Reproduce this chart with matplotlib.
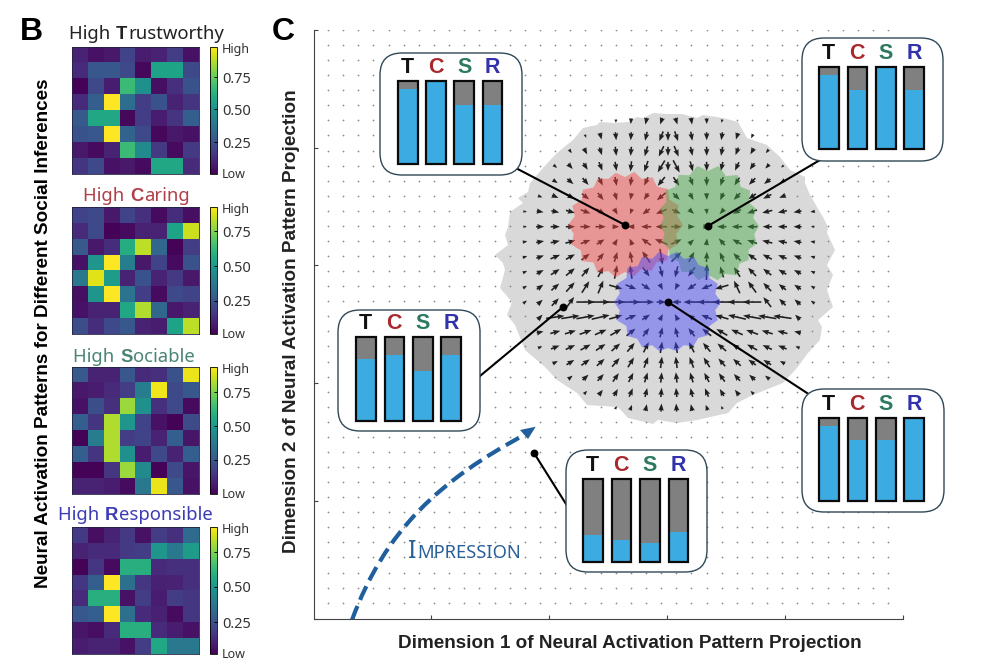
import numpy as np
import matplotlib
matplotlib.use("Agg")
import matplotlib.pyplot as plt
from matplotlib.patches import FancyBboxPatch, PathPatch
from matplotlib.path import Path

W, H = 1000, 669

# panel B, cell values
trust = [[.10, .05, .07, .20, .08, .10, .18, .05],
         [.12, .27, .27, .22, .02, .58, .58, .22],
         [.01, .22, .08, .68, .50, .04, .14, .25],
         [.12, .30, 1.0, .36, .18, .25, .10, .15],
         [.28, .60, .60, .02, .18, .08, .15, .30],
         [.25, .27, 1.0, .32, .22, .02, .07, .05],
         [.07, .03, .10, .68, .48, .17, .03, .17],
         [.15, .22, .05, .07, .03, .60, .60, .12]]
caring = [[.20, .22, .07, .20, .14, .03, .13, .04],
          [.12, .22, .01, .03, .10, .10, .58, .92],
          [.28, .07, .13, .62, .90, .33, .01, .18],
          [.05, .52, 1.0, .42, .07, .20, .03, .25],
          [.40, .95, .55, .10, .25, .10, .17, .07],
          [.04, .52, 1.0, .38, .18, .03, .22, .20],
          [.05, .10, .10, .60, .88, .33, .07, .10],
          [.24, .13, .22, .27, .10, .08, .58, .90]]
sociable = [[.28, .10, .10, .27, .12, .14, .25, .97],
            [.07, .08, .12, .18, .42, .98, .22, .27],
            [.05, .24, .14, .85, .50, .14, .22, .03],
            [.30, .15, .88, .52, .20, .05, .01, .23],
            [.01, .42, .88, .18, .20, .10, .30, .06],
            [.30, .15, .88, .50, .08, .22, .10, .30],
            [.01, .01, .16, .85, .48, .01, .22, .06],
            [.10, .10, .08, .03, .40, .97, .27, .05]]
responsible = [[.17, .04, .10, .17, .05, .18, .14, .35],
               [.10, .12, .12, .17, .18, .52, .40, .55],
               [.01, .16, .03, .63, .63, .12, .14, .14],
               [.16, .30, 1.0, .37, .16, .09, .10, .14],
               [.12, .63, .63, .05, .18, .08, .18, .16],
               [.27, .30, 1.0, .37, .12, .09, .03, .16],
               [.06, .04, .12, .63, .63, .12, .08, .05],
               [.08, .10, .10, .05, .18, .60, .40, .40]]
heat_tops = [47, 207, 367, 527]
cbar_tick_pos = [[.25, .51, .76], [.26, .535, .81], [.27, .535, .80], [.25, .53, .80]]
cbar_tick_labels = ["0.25", "0.50", "0.75"]

# panel C, bar values in the callouts
bar_letters = ["T", "C", "S", "R"]
bars_top_left = [.90, 1.0, .71, .71]
bars_top_right = [.90, .72, 1.0, .72]
bars_left = [.74, .79, .60, .78]
bars_right = [.90, .73, .73, 1.0]
bars_bottom = [.32, .26, .23, .36]

# arrows of the landscape: first grid column of each row, direction in degrees, length in px
arrow_rows = list(range(-7, 13))
arrow_first_col = [6, 4, 3, 2, 2, 1, 0, 0, 0, 0, 0, 0, 0, 1, 1, 1, 2, 3, 4, 6]
arrow_angles = [
    [-85, -93, -101, -109, -73, -81, -89, -97],
    [-67, -75, -84, -94, -103, -112, -71, -80, -89, -99, -108, -116],
    [-54, -62, -72, -83, -95, -106, -116, -67, -78, -89, -100, -111, -120, -128],
    [-41, -48, -57, -68, -81, -96, -109, -121, -62, -75, -89, -103, -115, -126, -134, -141],
    [-33, -40, -49, -62, -79, -98, -115, -129, -55, -70, -88, -107, -122, -134, -142, -149],
    [-20, -23, -29, -38, -51, -73, -101, -125, -140, -44, -61, -87, -114, -134, -145, -153, -158],
    [-9, -10, -12, -16, -21, -32, -59, -112, -144, -157, -25, -42, -84, -132, -152, -161, -166, -168, -170, -172],
    [0, 0, 0, 0, 0, 0, 0, 180, 180, 180, 0, 0, 0, 180, 180, 180, 180, 180, 180, 180],
    [9, 10, 12, 16, 21, 32, 59, 112, 144, 157, 25, 42, 84, 132, 152, 161, 166, 168, 170, 172],
    [17, 20, 23, 29, 38, 51, 73, 101, 125, -81, 44, 61, 87, 114, 134, 145, 153, 158, 161, 164],
    [24, 28, 33, 40, 49, 62, 79, 98, -53, -76, -104, -127, 88, 107, 122, 134, 142, 149, 153, 157],
    [31, 36, 41, 48, 57, 68, -16, -22, -34, -63, -117, -146, -158, -164, 115, 126, 134, 141, 146, 150],
    [37, 42, 47, 54, 0, 0, 0, 0, 0, 0, 180, 180, 180, 180, 180, 180, 128, 134, 139, 144],
    [47, 8, 9, 10, 13, 16, 22, 34, 63, 117, 146, 158, 164, 167, 170, 171, 172, 135],
    [13, 15, 17, 20, 24, 30, 39, 53, 76, 104, 127, 141, 150, 156, 160, 163, 165, 167],
    [19, 22, 25, 29, 34, 41, 50, 63, 81, 99, 117, 130, 139, 146, 151, 155, 158, 161],
    [28, 32, 36, 42, 49, 58, 69, 83, 97, 111, 122, 131, 138, 144, 148, 152],
    [38, 42, 48, 55, 63, 73, 84, 96, 107, 117, 125, 132, 138, 142],
    [47, 53, 60, 67, 76, 85, 95, 104, 113, 120, 127, 133],
    [63, 70, 78, 86, 94, 102, 110, 117],
]
arrow_lengths = [
    [3, 5, 6, 6, 6, 6, 5, 3],
    [3, 6, 7, 7, 8, 9, 9, 8, 7, 7, 6, 4],
    [4, 6, 7, 8, 8, 9, 10, 10, 8, 8, 8, 7, 6, 4],
    [4, 6, 7, 8, 8, 9, 10, 12, 12, 9, 8, 8, 8, 7, 5, 3],
    [5, 7, 8, 8, 8, 8, 8, 10, 9, 8, 8, 8, 8, 8, 7, 5],
    [4, 6, 8, 8, 8, 7, 6, 7, 10, 8, 7, 6, 7, 8, 8, 8, 6],
    [3, 6, 7, 8, 9, 9, 6, 5, 8, 10, 8, 6, 5, 6, 8, 9, 9, 8, 7, 4],
    [3, 7, 8, 8, 9, 9, 6, 6, 9, 10, 9, 6, 6, 8, 9, 9, 8, 8, 7, 3],
    [4, 7, 8, 9, 9, 8, 6, 6, 10, 12, 10, 6, 6, 8, 9, 9, 9, 8, 7, 4],
    [4, 7, 9, 9, 9, 9, 9, 10, 12, 14, 12, 10, 9, 9, 9, 9, 9, 8, 7, 4],
    [4, 7, 9, 10, 10, 10, 12, 12, 10, 10, 10, 10, 14, 10, 10, 10, 9, 8, 7, 4],
    [4, 7, 9, 11, 12, 12, 12, 10, 9, 6, 6, 9, 10, 12, 12, 12, 10, 8, 7, 4],
    [4, 6, 9, 11, 16, 16, 16, 16, 14, 8, 8, 14, 16, 16, 16, 16, 11, 8, 7, 4],
    [6, 16, 16, 16, 16, 12, 10, 8, 6, 6, 8, 10, 12, 16, 16, 16, 16, 6],
    [6, 9, 10, 11, 11, 11, 10, 9, 9, 9, 9, 10, 11, 11, 11, 10, 9, 6],
    [4, 8, 9, 10, 10, 10, 10, 10, 10, 10, 10, 10, 10, 10, 10, 9, 8, 4],
    [5, 8, 9, 9, 10, 10, 10, 10, 10, 10, 10, 9, 9, 8, 8, 5],
    [5, 7, 8, 9, 9, 9, 9, 9, 9, 9, 9, 8, 7, 5],
    [4, 6, 7, 8, 8, 8, 8, 8, 8, 7, 6, 4],
    [3, 5, 6, 7, 7, 6, 5, 3],
]

# outlines of the regions, traced in image pixels
gray_x = [653, 643, 637, 628, 615, 600, 597, 583, 573, 563, 555, 543, 530, 528, 518, 523, 510, 508, 505, 508,
          495, 503, 505, 500, 512, 507, 515, 525, 545, 557, 577, 587, 618, 628, 653, 658, 677, 697, 728, 737,
          753, 783, 797, 808, 820, 822, 818, 833, 827, 833, 827, 835, 827, 828, 823, 810, 805, 805, 790, 780,
          767, 747, 738, 723, 703, 697, 682, 667]
gray_y = [113, 118, 117, 122, 123, 122, 125, 128, 140, 148, 155, 168, 183, 192, 198, 203, 212, 227, 235, 245,
          255, 263, 270, 288, 302, 315, 325, 350, 367, 380, 393, 405, 407, 418, 424, 420, 423, 420, 413, 403,
          395, 383, 368, 353, 340, 327, 320, 307, 290, 275, 265, 250, 233, 227, 217, 195, 183, 177, 170, 157,
          145, 138, 122, 118, 115, 118, 114, 114]
# radii every 10 degrees from the centre of each coloured region
red_radii = [58, 53, 57, 51, 56, 50, 55, 49, 54, 48, 53, 49, 54, 49, 55, 50, 56, 51,
             57, 52, 57, 51, 56, 49, 55, 49, 53, 47, 52, 47, 53, 49, 55, 50, 56, 52]
green_radii = [51, 46, 51, 47, 55, 51, 59, 53, 61, 55, 61, 54, 59, 51, 55, 48, 51, 45,
               48, 44, 49, 45, 50, 46, 53, 49, 55, 49, 55, 51, 57, 49, 53, 47, 52, 47]
blue_radii = [53, 48, 53, 48, 53, 48, 52, 46, 51, 46, 51, 46, 52, 47, 53, 48, 54, 49,
              54, 49, 54, 48, 53, 48, 52, 46, 50, 46, 50, 46, 51, 47, 52, 48, 53, 48]

impression_ctrl_x = [352, 385, 440, 526]
impression_ctrl_y = [620, 530, 480, 434]

plt.rcParams['font.family'] = ['Noto Sans', 'DejaVu Sans']
BOLD = ['Liberation Sans', 'DejaVu Sans']

fig = plt.figure(figsize=(W / 100, H / 100), dpi=100)


def px_axes(x0, y0, x1, y1, **kw):
    return fig.add_axes([x0 / W, 1 - y1 / H, (x1 - x0) / W, (y1 - y0) / H], **kw)


# pixel space layer for callouts, titles and labels
ov = px_axes(0, 0, W, H, zorder=5)
ov.set_xlim(0, W)
ov.set_ylim(H, 0)
ov.axis("off")
renderer = fig.canvas.get_renderer()


def parts_text(x, y, parts, size, color):
    # run of text starting at x on baseline y, parts are (string, weight)
    for s, weight in parts:
        fam = BOLD if weight == "bold" else ['Noto Sans']
        t = ov.text(x, y, s, fontsize=size, color=color, fontweight=weight, family=fam,
                    ha="left", va="baseline")
        x += t.get_window_extent(renderer).width + 1


# panel B
heat_data = [trust, caring, sociable, responsible]
heat_titles = [("High ", "T", "rustworthy", 69, 39, "#222222"),
               ("High ", "C", "aring", 83, 201, "#b04048"),
               ("High ", "S", "ociable", 73, 362, "#4a8576"),
               ("High ", "R", "esponsible", 58, 520, "#3c3cb4")]
for data, top, pos, title in zip(heat_data, heat_tops, cbar_tick_pos, heat_titles):
    ax = px_axes(72, top, 199, top + 127)
    im = ax.imshow(np.array(data), cmap="viridis", vmin=0, vmax=1, aspect="auto", interpolation="nearest")
    ax.set_xticks([])
    ax.set_yticks([])
    for sp in ax.spines.values():
        sp.set_linewidth(0.6)
        sp.set_color("#222244")
    cax = px_axes(210, top, 217, top + 127)
    cb = fig.colorbar(im, cax=cax)
    cb.set_ticks(pos, labels=cbar_tick_labels)
    cb.ax.tick_params(length=2.5, width=0.7, direction="in", labelsize=10.5, pad=4, labelcolor="#333333")
    cb.outline.set_linewidth(0.6)
    ov.text(222, top + 3, "High", fontsize=9, color="#333333", va="center", ha="left")
    ov.text(222, top + 128, "Low", fontsize=9, color="#333333", va="center", ha="left")
    parts_text(title[3], title[4], [(title[0], "normal"), (title[1], "bold"), (title[2], "normal")],
               13.3, title[5])

ov.text(20, 40, "B", fontsize=23, fontweight="bold", family=BOLD, va="baseline")
ov.text(272, 40, "C", fontsize=23, fontweight="bold", family=BOLD, va="baseline")
ov.text(44, 333, "Neural Activation Patterns for Different Social Inferences", rotation=90,
        fontsize=13.6, fontweight="bold", family=BOLD, ha="center", va="center")
ov.text(291, 321, "Dimension 2 of Neural Activation Pattern Projection", rotation=90,
        fontsize=13.6, fontweight="bold", family=BOLD, ha="center", va="center", color="#222222")
ov.text(630, 644, "Dimension 1 of Neural Activation Pattern Projection",
        fontsize=13.6, fontweight="bold", family=BOLD, ha="center", va="center", color="#222222")

# panel C, axes data runs in image pixels
main = px_axes(314, 30, 903, 619, zorder=1)
main.set_xlim(314, 903)
main.set_ylim(619, 30)
main.set_xticks([431, 549, 667, 785, 903], labels=[])
main.set_yticks([148, 265, 383, 501, 619, 30], labels=[])
main.tick_params(direction="in", length=3, width=0.8, color="#444444")
main.spines[["top", "right"]].set_visible(False)
main.spines[["left", "bottom"]].set_color("#444444")

main.fill(gray_x, gray_y, color="#d9d9d9", lw=0, zorder=1)

gx, gy = np.meshgrid(328 + 15.14 * np.arange(38), 30 + 15.07 * np.arange(39))
main.scatter(gx.ravel(), gy.ravel(), s=1.6, color="#8a8a8a", lw=0, zorder=2)

xs, ys, us, vs = [], [], [], []
for r, c0, angs, lens in zip(arrow_rows, arrow_first_col, arrow_angles, arrow_lengths):
    for i, (a, ln) in enumerate(zip(angs, lens)):
        xs.append(525 + 15.14 * (c0 + i))
        ys.append(226.7 + 15.07 * r)
        us.append(1.15 * ln * np.cos(np.deg2rad(a)))
        vs.append(-1.15 * ln * np.sin(np.deg2rad(a)))
# the middle column above the regions is doubled
for r in [-6, -5, -4]:
    xs.append(668)
    ys.append(226.7 + 15.07 * r)
    us.append(0)
    vs.append(9)
main.quiver(xs, ys, us, vs, angles="xy", scale_units="xy", scale=1, pivot="mid", units="dots", width=1.6,
            headwidth=3.4, headlength=4.4, headaxislength=4, minlength=0, color="#202020", zorder=3)

theta = np.deg2rad(np.arange(0, 360, 10))
for (cx, cy), radii, col in [((625, 225), red_radii, (251 / 255, 68 / 255, 68 / 255)),
                             ((708, 226), green_radii, (68 / 255, 169 / 255, 68 / 255)),
                             ((668, 302), blue_radii, (68 / 255, 68 / 255, 1.0))]:
    rr = np.array(radii)
    main.fill(cx + rr * np.cos(theta), cy - rr * np.sin(theta), color=col, alpha=0.45, lw=0, zorder=4)

# impression arrow
curve = Path(np.column_stack([impression_ctrl_x, impression_ctrl_y]),
             [Path.MOVETO, Path.CURVE4, Path.CURVE4, Path.CURVE4])
main.add_patch(PathPatch(curve, fill=False, ec="#1f5f9e", lw=3, linestyle=(0, (3.6, 1.6)),
                         capstyle="butt", zorder=6))
main.fill([535.7, 520, 528], [426.7, 430, 439], color="#1f5f9e", lw=0, zorder=6)
ov_x = 408
t = ov.text(ov_x, 558, "I", fontsize=18, color="#2a6099", family=['Noto Sans'], fontweight="semibold", va="baseline")
ov.text(ov_x + t.get_window_extent(renderer).width + 0.5, 558, "MPRESSION", fontsize=13.2,
        color="#2a6099", family=['Noto Sans'], fontweight="semibold", va="baseline")

# leader lines and their target dots
leaders = [(510, 165, 625, 225), (820, 160, 708, 226), (480, 376, 563, 307),
           (807, 393, 668, 302), (566, 504, 534, 453)]
for x0, y0, x1, y1 in leaders:
    ov.plot([x0, x1], [y0, y1], color="black", lw=1.5, zorder=2)
    ov.scatter([x1], [y1], s=32, color="black", lw=0, zorder=3)

# callouts
letter_colors = ["#111111", "#a8282e", "#2e7a60", "#3232aa"]
callouts = [(380, 53, 142, 122, 398, 502, 81, 164, bars_top_left),
            (802, 38, 141, 123, 819, 924, 67, 149, bars_top_right),
            (338, 310, 142, 121, 356, 461, 337, 421, bars_left),
            (802, 389, 142, 123, 819, 924, 418, 501, bars_right),
            (566, 450, 141, 122, 583, 688, 479, 562, bars_bottom)]
for bx, by, bw, bh, x0, x1, y0, y1, vals in callouts:
    ov.add_patch(FancyBboxPatch((bx, by), bw, bh, boxstyle="round,pad=0,rounding_size=22",
                                fc="white", ec="#2f4858", lw=1, zorder=4))
    w = 19.5 / ((x1 - x0 - 19.5) / 3)
    bax = px_axes(x0, y0, x1, y1, zorder=6)
    bax.patch.set_alpha(0)
    bax.set_xlim(-w / 2, 3 + w / 2)
    bax.set_ylim(0, 1)
    bax.axis("off")
    pos = np.arange(4)
    bax.bar(pos, 1, width=w, color="#808080", lw=0)
    bax.bar(pos, vals, width=w, color="#3cabe2", lw=0)
    bax.bar(pos, 1, width=w, fill=False, edgecolor="#0a0a0a", lw=1.6, clip_on=False)
    for p, letter, col in zip(pos, bar_letters, letter_colors):
        bax.text(p, 1.035, letter, ha="center", va="bottom", fontsize=15.5, fontweight="bold",
                 family=BOLD, color=col)

fig.savefig("out.png", dpi=100)
